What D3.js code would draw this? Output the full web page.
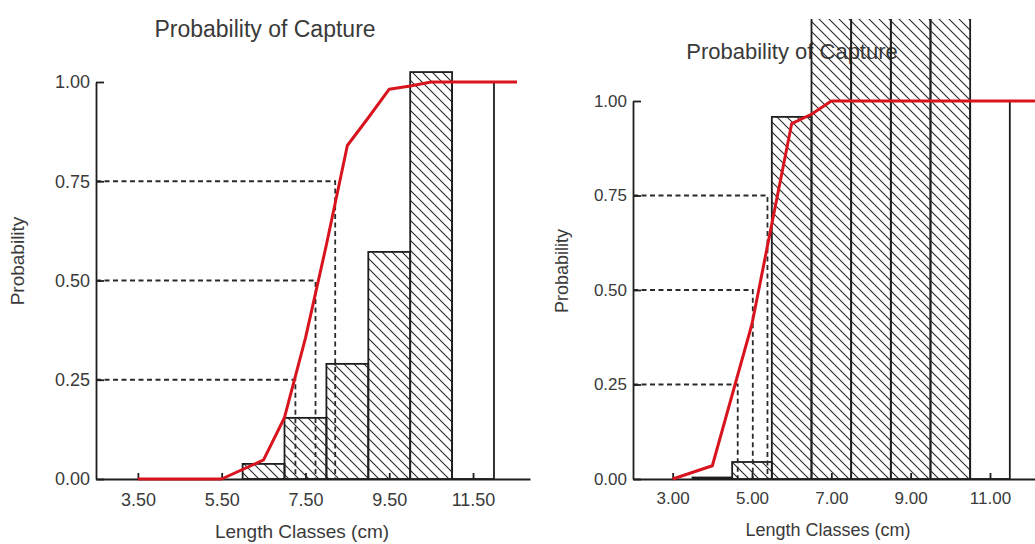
<!DOCTYPE html>
<html>
<head>
<meta charset="utf-8">
<script src="https://cdn.jsdelivr.net/npm/d3@7"></script>
<style>
  body { margin: 0; background: #fff; }
  svg text { font-family: 'Liberation Sans', Arial, sans-serif; fill: #3a3a3a; }
</style>
</head>
<body>
<svg id="chart" width="1035" height="544"></svg>
<script>
// left panel data
const leftBinStart = [6, 7, 8, 9, 10, 11];
const leftBinFreq = [0.038, 0.154, 0.29, 0.572, 1.025, 1.0];
const leftBinHatched = [true, true, true, true, true, false];
const leftCurveLen = [3.5, 4.5, 5.5, 6.5, 7.0, 7.5, 8.0, 8.5, 9.0, 9.5, 10.0, 10.5, 11.5, 12.55];
const leftCurveProb = [0, 0, 0, 0.048, 0.155, 0.355, 0.59, 0.84, 0.91, 0.982, 0.99, 1.0, 1.0, 1.0];
const leftLengthAtProb = [7.26, 7.74, 8.21];
const leftXTicks = [3.5, 5.5, 7.5, 9.5, 11.5];

// right panel data
const rightBinStart = [3.5, 4.5, 5.5, 6.5, 7.5, 8.5, 9.5, 10.5];
const rightBinFreq = [0.004, 0.045, 0.958, 1.6, 2.1, 1.8, 1.4, 1.0];
const rightBinHatched = [true, true, true, true, true, true, true, false];
const rightCurveLen = [3.0, 4.0, 5.0, 6.0, 6.5, 7.0, 8.0, 9.0, 10.0, 11.0, 12.2];
const rightCurveProb = [0, 0.035, 0.41, 0.94, 0.965, 1.0, 1.0, 1.0, 1.0, 1.0, 1.0];
const rightLengthAtProb = [4.64, 5.02, 5.39];
const rightXTicks = [3, 5, 7, 9, 11];

const probLevels = [0.25, 0.5, 0.75];
const yTicks = [0, 0.25, 0.5, 0.75, 1.0];
const binWidth = 1;
const title = 'Probability of Capture';
const xTitle = 'Length Classes (cm)';
const yTitle = 'Probability';

const svg = d3.select('#chart');

svg
  .append('defs')
  .append('pattern')
  .attr('id', 'hatch')
  .attr('patternUnits', 'userSpaceOnUse')
  .attr('width', 10)
  .attr('height', 10)
  .append('path')
  .attr('d', 'M-5,5L5,15M0,0L10,10M5,-5L15,5')
  .style('stroke', '#2a2a2a')
  .style('stroke-width', 1.1);

function drawPanel(id, bins, curve, lengthAtProb, xTicks, lay) {
  const x = d3.scaleLinear().domain(lay.xDomain).range(lay.xRange);
  const y = d3.scaleLinear().domain([0, 1]).range(lay.yRange);
  const g = svg.append('g').attr('class', 'panel_' + id);

  g.append('text')
    .text(title)
    .attr('x', lay.title[0])
    .attr('y', lay.title[1])
    .attr('text-anchor', 'middle')
    .style('font-size', lay.titleFont + 'px');

  g.append('clipPath')
    .attr('id', 'clip_' + id)
    .append('rect')
    .attr('x', 0)
    .attr('y', lay.clipTop)
    .attr('width', 1035)
    .attr('height', 544 - lay.clipTop);

  // histogram bars
  g.append('g')
    .attr('clip-path', 'url(#clip_' + id + ')')
    .selectAll('rect')
    .data(bins)
    .enter()
    .append('rect')
    .attr('x', d => x(d.start))
    .attr('y', d => y(d.freq))
    .attr('width', d => x(d.start + binWidth) - x(d.start))
    .attr('height', d => y(0) - y(d.freq))
    .style('fill', d => (d.hatched ? 'url(#hatch)' : 'none'))
    .style('stroke', '#1e1e1e')
    .style('stroke-width', 1.8);

  // L25 / L50 / L75 guides
  const guides = g.append('g').attr('class', 'guides');
  probLevels.forEach((p, i) => {
    guides
      .append('path')
      .attr('d', 'M' + lay.xRange[0] + ',' + y(p) + 'H' + x(lengthAtProb[i]) + 'V' + y(0))
      .style('fill', 'none')
      .style('stroke', '#2a2a2a')
      .style('stroke-width', 1.8)
      .style('stroke-dasharray', '5,3.5');
  });

  const yAxis = g
    .append('g')
    .attr('transform', 'translate(' + lay.xRange[0] + ',0)')
    .call(d3.axisLeft(y).tickValues(yTicks).tickFormat(d3.format('.2f')).tickSize(-8).tickSizeOuter(0).tickPadding(6));
  const xAxis = g
    .append('g')
    .attr('transform', 'translate(0,' + y(0) + ')')
    .call(d3.axisBottom(x).tickValues(xTicks).tickFormat(d3.format('.2f')).tickSize(-6).tickSizeOuter(0).tickPadding(lay.xPad));
  [yAxis, xAxis].forEach(ax => {
    ax.selectAll('path, line').style('stroke', '#1e1e1e').style('stroke-width', 1.8);
    ax.selectAll('text')
      .style('font-size', lay.tickFont + 'px')
      .style('font-family', "'Liberation Sans', Arial, sans-serif")
      .style('fill', '#3a3a3a');
  });

  const line = d3
    .line()
    .x(d => x(d[0]))
    .y(d => y(d[1]));
  g.append('path')
    .datum(curve)
    .attr('d', line)
    .style('fill', 'none')
    .style('stroke', '#d8141f')
    .style('stroke-width', 3)
    .style('stroke-linejoin', 'round');

  g.append('text')
    .text(xTitle)
    .attr('x', lay.xLabel[0])
    .attr('y', lay.xLabel[1])
    .attr('text-anchor', 'middle')
    .style('font-size', lay.labelFont + 'px');

  g.append('text')
    .text(yTitle)
    .attr('transform', 'translate(' + lay.yLabel[0] + ',' + lay.yLabel[1] + ') rotate(-90)')
    .attr('text-anchor', 'middle')
    .style('font-size', lay.labelFont + 'px');
}

const leftBins = leftBinStart.map((s, i) => ({start: s, freq: leftBinFreq[i], hatched: leftBinHatched[i]}));
const rightBins = rightBinStart.map((s, i) => ({start: s, freq: rightBinFreq[i], hatched: rightBinHatched[i]}));

drawPanel('left', leftBins, d3.zip(leftCurveLen, leftCurveProb), leftLengthAtProb, leftXTicks, {
  xDomain: [2.5, 12.86],
  xRange: [96, 530],
  yRange: [479, 82],
  clipTop: 0,
  xPad: 14,
  tickFont: 18,
  labelFont: 19,
  titleFont: 23,
  title: [265, 37],
  xLabel: [302, 538],
  yLabel: [24, 261]
});

drawPanel('right', rightBins, d3.zip(rightCurveLen, rightCurveProb), rightLengthAtProb, rightXTicks, {
  xDomain: [2, 12.16],
  xRange: [633, 1036],
  yRange: [479, 101],
  clipTop: 19,
  xPad: 13,
  tickFont: 17,
  labelFont: 18,
  titleFont: 22,
  title: [792, 59],
  xLabel: [828, 536],
  yLabel: [568, 271]
});
</script>
</body>
</html>
